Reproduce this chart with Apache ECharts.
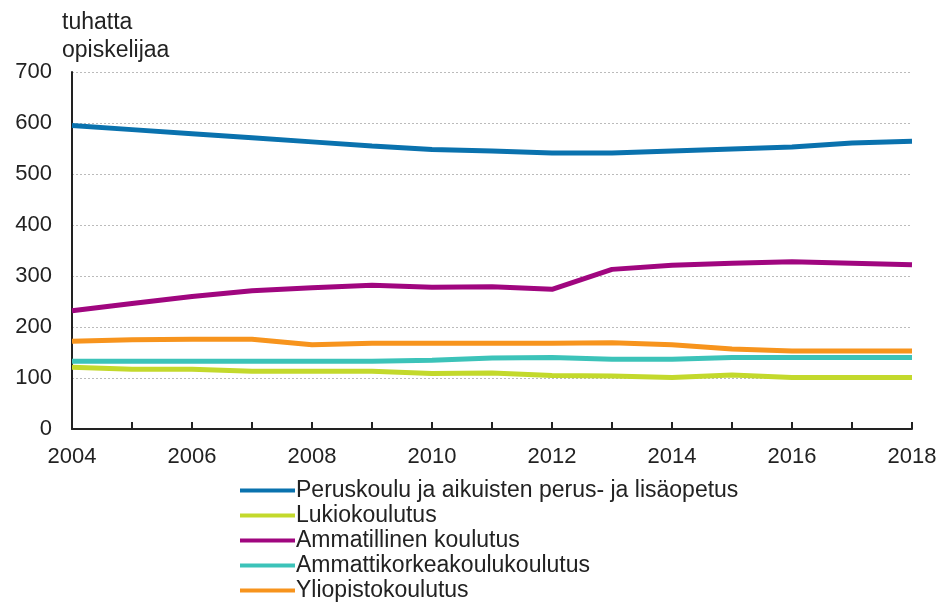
<!DOCTYPE html>
<html><head><meta charset="utf-8">
<script src="https://cdn.jsdelivr.net/npm/echarts@6/dist/echarts.min.js"></script>
<style>html,body{margin:0;padding:0;background:#fff}#c{width:944px;height:603px}</style>
</head><body><div id="c"></div>
<script>
const years = ['2004','2005','2006','2007','2008','2009','2010','2011','2012','2013','2014','2015','2016','2017','2018'];
const peruskoulu = [595,587,579,571,563,555,548,545,541,541,545,549,553,561,564];
const lukio = [121,117,117,113,113,113,109,110,105,104,101,106,101,101,101];
const ammatillinen = [232,246,260,271,277,282,278,279,274,313,321,325,328,325,322];
const amk = [133,133,133,133,133,133,135,139,140,137,137,140,140,140,140];
const yliopisto = [172,175,176,176,165,168,168,168,168,169,165,157,153,153,153];
const seriesNames = ['Peruskoulu ja aikuisten perus- ja lisäopetus','Lukiokoulutus','Ammatillinen koulutus','Ammattikorkeakoulukoulutus','Yliopistokoulutus'];
const colors = ['#0a72ae','#c3d92c','#a0067f','#3cc3b9','#f7941d'];
const dataSets = [peruskoulu, lukio, ammatillinen, amk, yliopisto];
const yTicks = {min:0, max:700, interval:100};

const font = 'Liberation Sans, Arial, sans-serif';
const chart = echarts.init(document.getElementById('c'), null, {renderer:'canvas'});
const drawOrder = [4,3,1,2,0];
chart.setOption({
  animation:false,
  color: colors,
  grid:{left:72, right:32, top:72, bottom:174, containLabel:false},
  legend:{
    orient:'vertical', left:240, top:478, padding:0,
    data: seriesNames,
    icon:'rect', itemWidth:55, itemHeight:4, itemGap:0,
    textStyle:{fontFamily:font, fontSize:23, color:'#222', lineHeight:25, padding:[0,0,0,-4]}
  },
  xAxis:{
    type:'category', data:years, boundaryGap:false,
    axisLine:{show:true, lineStyle:{color:'#222', width:2}},
    axisTick:{show:true, inside:true, length:7, interval:0, lineStyle:{color:'#222', width:2}},
    axisLabel:{interval:1, fontFamily:font, fontSize:22, color:'#222', margin:17},
    splitLine:{show:false}
  },
  yAxis:{
    type:'value', min:yTicks.min, max:yTicks.max, interval:yTicks.interval,
    name:'tuhatta\nopiskelijaa', nameLocation:'end', nameGap:7,
    nameTextStyle:{fontFamily:font, fontSize:23, color:'#222', align:'left', lineHeight:28, padding:[0,0,0,-10]},
    axisLine:{show:true, lineStyle:{color:'#222', width:2}},
    axisTick:{show:false},
    axisLabel:{fontFamily:font, fontSize:22, color:'#222', margin:20},
    splitLine:{show:true, lineStyle:{color:'#bbb', type:[2,2], width:1}}
  },
  series: drawOrder.map(i=>({
    name: seriesNames[i], type:'line', data: dataSets[i],
    symbol:'none', smooth:false, z: 2 + drawOrder.indexOf(i),
    lineStyle:{width:5, color:colors[i]}, itemStyle:{color:colors[i]}
  }))
});
</script></body></html>
